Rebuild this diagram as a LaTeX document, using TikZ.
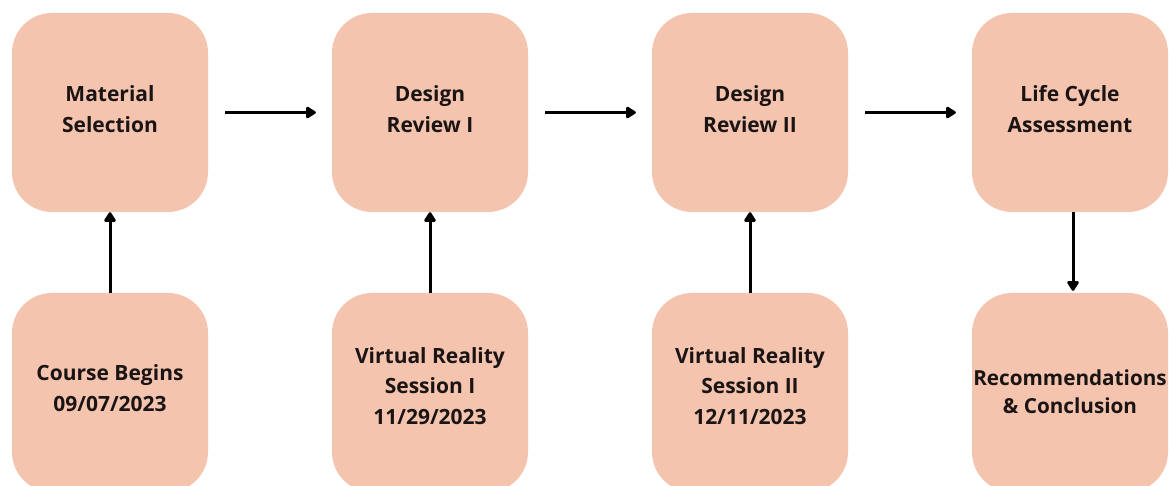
\documentclass[tikz,border=0pt]{standalone}
\usepackage{fontspec}
\setmainfont{Open Sans}
\usetikzlibrary{arrows.meta}
\definecolor{boxfill}{HTML}{F4C4AE}
\definecolor{ink}{HTML}{1A1414}
\begin{document}
\begin{tikzpicture}[x=1pt,y=1pt,
  card/.style={rectangle, rounded corners=40pt, fill=boxfill, minimum width=196pt, minimum height=199pt,
    inner sep=0pt, align=center, text=ink, font=\bfseries\fontsize{21}{31}\selectfont},
  lbl/.style={align=center, text=ink, font=\bfseries\fontsize{21}{30.5}\selectfont},
  arr/.style={line width=3pt, draw=black, -{Triangle[round,length=11pt,width=13pt]}}]
\useasboundingbox (0,0) rectangle (1169,486);
\fill[white] (0,0) rectangle (1169,486);
\begin{scope}
\clip (0,0) rectangle (1169,486);
\node[card] (a1) at (110,373.5) {};
\node[card] (a2) at (430,373.5) {};
\node[card] (a3) at (750,373.5) {};
\node[card] (a4) at (1070,373.5) {};
\node[card] (b1) at (110,93.5) {};
\node[card] (b2) at (430,93.5) {};
\node[card] (b3) at (750,93.5) {};
\node[card] (b4) at (1070,93.5) {};
\end{scope}
\node[lbl] (s1) at (110,377) {Material\\Selection};
\node[lbl] (s2) at (430,377) {Design\\Review I};
\node[lbl] (s3) at (750,377) {Design\\Review II};
\node[lbl] (s4) at (1070,377) {Life Cycle\\Assessment};
\node[lbl] (t1) at (110,98) {Course Begins\\09/07/2023};
\node[lbl] (t2) at (430,100) {Virtual Reality\\Session I\\11/29/2023};
\node[lbl] (t3) at (750,100) {Virtual Reality\\Session II\\12/11/2023};
\node[lbl, font=\bfseries\fontsize{20.7}{28}\selectfont] (t4) at (1070,94) {Recommendations\\\& Conclusion};
\draw[arr] ([xshift=17pt]a1.east) -- ([xshift=-16pt]a2.west);
\draw[arr] ([xshift=17pt]a2.east) -- ([xshift=-16pt]a3.west);
\draw[arr] ([xshift=17pt]a3.east) -- ([xshift=-16pt]a4.west);
\draw[arr] (b1.north) -- (a1.south);
\draw[arr] (b2.north) -- (a2.south);
\draw[arr] (b3.north) -- (a3.south);
\draw[arr] ([xshift=3pt]a4.south) -- ([xshift=3pt,yshift=2pt]b4.north);
\end{tikzpicture}
\end{document}
